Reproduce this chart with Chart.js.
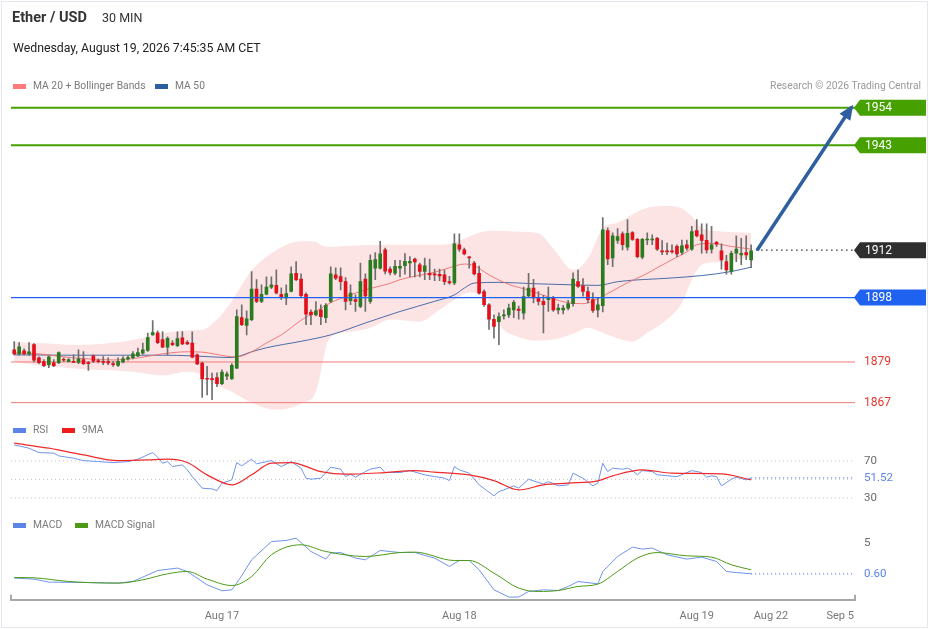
<!DOCTYPE html>
<html>
<head>
<meta charset="utf-8">
<title>Ether / USD 30 MIN</title>
<script src="https://cdn.jsdelivr.net/npm/chart.js@4.4.1/dist/chart.umd.min.js"></script>
<style>
  html, body { margin: 0; padding: 0; background: #fff; }
  body { width: 929px; height: 629px; position: relative; overflow: hidden;
         font-family: Roboto, "Liberation Sans", Arial, sans-serif; }
  #frame { position: absolute; left: 1px; top: 1px; width: 925px; height: 625px; border: 1px solid #e4e8ee; }
  #cv { position: absolute; left: 0; top: 0; }
  .t { position: absolute; white-space: nowrap; line-height: 1; }
  .lg { font-size: 10.3px; color: #7a7a7a; }
  .sw { position: absolute; width: 13px; height: 5px; }
</style>
</head>
<body>
<div id="frame"></div>
<canvas id="cv" width="929" height="633"></canvas>

<div class="t" style="left:12px;top:11px;font-size:14.5px;font-weight:bold;color:#333">Ether / USD</div>
<div class="t" style="left:102px;top:12px;font-size:12.5px;color:#333">30 MIN</div>
<div class="t" style="left:13px;top:42px;font-size:12.3px;color:#222">Wednesday, August 19, 2026 7:45:35 AM CET</div>

<div class="sw" style="left:13px;top:84px;background:#ff7b7b"></div>
<div class="t lg" style="left:33px;top:81px">MA 20 + Bollinger Bands</div>
<div class="sw" style="left:155px;top:84px;background:#2d5fa0"></div>
<div class="t lg" style="left:175px;top:81px">MA 50</div>
<div class="t lg" style="right:8px;top:81px;color:#9a9a9a">Research © 2026 Trading Central</div>

<div class="sw" style="left:13px;top:428px;background:#5b84e6"></div>
<div class="t lg" style="left:33px;top:425px">RSI</div>
<div class="sw" style="left:62px;top:428px;background:#ee1c1c"></div>
<div class="t lg" style="left:82px;top:425px">9MA</div>

<div class="sw" style="left:13px;top:523px;background:#5b84e6"></div>
<div class="t lg" style="left:33px;top:520px">MACD</div>
<div class="sw" style="left:75px;top:523px;background:#4c9a15"></div>
<div class="t lg" style="left:95px;top:520px">MACD Signal</div>

<script>
// x axis: candle index (30 min bars), future area on the right
const xMin = -0.65, xMax = 170;
const xTickPos = [42, 90, 138, 153, 167];
const xTickLabels = ['Aug 17', 'Aug 18', 'Aug 19', 'Aug 22', 'Sep 5'];

// candles, one entry per 30 min bar
const candleOpen = [
  1882.6,1881.4,1882.3,1881.4,1884.1,1880.2,1879.1,1878.2,1878.8,1878.8,
  1879.8,1879.1,1879.2,1878.9,1879.7,1878.8,1880.8,1879.2,1879.1,1879.1,
  1878.3,1878.0,1879.0,1879.9,1880.3,1880.8,1881.6,1882.4,1887.0,1887.6,
  1885.6,1883.4,1884.6,1883.8,1886.1,1884.8,1884.6,1881.1,1878.7,1874.0,
  1874.0,1874.4,1872.6,1874.8,1874.1,1877.2,1892.1,1889.8,1891.5,1900.5,
  1896.9,1899.0,1901.1,1901.6,1899.0,1897.9,1899.8,1905.2,1903.5,1899.0,
  1893.7,1892.9,1894.4,1892.1,1896.9,1904.7,1904.2,1902.7,1897.1,1897.4,
  1895.4,1903.5,1896.9,1906.7,1906.7,1912.1,1906.4,1905.2,1906.7,1907.4,
  1908.2,1909.4,1907.7,1905.7,1905.2,1904.9,1904.9,1904.7,1902.7,1902.3,
  1913.6,1912.1,1910.0,1908.2,1905.2,1899.8,1895.9,1891.6,1890.9,1892.6,
  1892.9,1894.4,1894.6,1893.4,1898.5,1900.8,1897.9,1896.9,1897.4,1897.9,
  1894.4,1894.4,1894.9,1896.2,1902.7,1901.5,1899.8,1897.4,1894.4,1895.6,
  1917.8,1909.7,1914.9,1916.8,1912.9,1917.2,1915.2,1909.9,1915.0,1915.0,
  1915.5,1911.8,1911.8,1911.8,1913.1,1911.3,1913.6,1912.3,1917.8,1916.5,
  1914.9,1912.3,1914.3,1911.8,1908.6,1905.7,1911.1,1910.6,1911.3,1909.1
];
const candleHigh = [
  1885.0,1884.7,1882.9,1884.7,1884.4,1880.5,1879.7,1880.8,1879.7,1882.0,
  1880.2,1880.0,1881.1,1882.6,1882.1,1879.2,1881.1,1879.9,1880.6,1880.2,
  1879.2,1880.2,1880.6,1880.8,1882.1,1883.1,1884.6,1887.5,1891.2,1888.2,
  1888.0,1886.4,1885.3,1887.9,1888.0,1885.3,1887.9,1881.4,1879.0,1877.7,
  1875.7,1875.8,1876.7,1876.1,1878.5,1894.4,1895.9,1894.1,1905.7,1903.3,
  1901.8,1904.1,1904.1,1906.2,1900.9,1901.8,1907.1,1908.6,1905.0,1899.4,
  1894.4,1896.8,1895.9,1896.2,1907.1,1906.8,1906.8,1903.9,1901.8,1898.8,
  1908.2,1905.0,1910.6,1911.3,1914.6,1912.6,1907.1,1909.0,1909.0,1911.0,
  1910.1,1909.7,1908.2,1909.7,1909.4,1906.4,1906.4,1906.1,1904.3,1916.8,
  1916.8,1912.6,1910.1,1908.7,1907.3,1900.3,1896.2,1892.9,1893.5,1894.4,
  1896.1,1897.2,1895.5,1901.1,1905.2,1903.4,1899.8,1898.7,1901.1,1898.4,
  1896.1,1895.7,1897.2,1905.3,1906.1,1903.6,1901.1,1899.4,1897.9,1921.6,
  1918.6,1917.1,1918.4,1917.4,1921.0,1917.5,1915.5,1915.5,1917.1,1916.5,
  1915.8,1914.8,1914.1,1913.6,1913.6,1915.0,1915.0,1919.0,1921.0,1919.8,
  1919.8,1919.0,1914.6,1913.9,1910.5,1911.7,1916.2,1915.5,1916.2,1913.6
];
const candleLow = [
  1881.1,1881.0,1881.1,1880.9,1879.0,1878.5,1877.6,1877.3,1877.6,1878.5,
  1879.1,1879.0,1878.8,1878.5,1878.2,1876.5,1878.8,1878.7,1878.2,1878.2,
  1877.7,1877.7,1878.7,1879.5,1879.9,1880.6,1881.3,1882.1,1886.9,1884.4,
  1883.2,1881.1,1883.8,1883.5,1884.1,1884.1,1880.2,1878.2,1868.5,1869.3,
  1867.9,1871.7,1872.3,1873.8,1873.8,1877.0,1889.7,1887.0,1891.2,1896.5,
  1896.5,1898.8,1900.6,1899.1,1897.4,1895.9,1899.7,1903.0,1898.2,1890.0,
  1890.0,1892.6,1890.0,1890.6,1896.5,1903.3,1900.3,1894.4,1895.9,1893.9,
  1895.0,1893.9,1896.3,1903.3,1906.4,1905.0,1904.7,1904.7,1904.1,1904.9,
  1904.1,1904.1,1904.1,1903.3,1903.3,1903.0,1903.0,1901.8,1902.0,1901.8,
  1911.6,1910.6,1906.7,1904.7,1899.0,1895.4,1888.6,1886.0,1884.1,1891.6,
  1892.1,1892.1,1891.6,1891.6,1898.3,1896.4,1895.8,1887.6,1893.9,1893.9,
  1893.2,1893.2,1894.4,1895.5,1901.0,1898.4,1896.4,1893.6,1892.3,1893.8,
  1907.7,1907.1,1914.0,1912.1,1912.0,1914.9,1909.7,1909.4,1913.6,1913.6,
  1911.9,1910.7,1910.7,1911.1,1910.1,1910.7,1912.0,1911.9,1915.9,1911.1,
  1911.1,1911.1,1913.1,1906.4,1904.9,1904.9,1908.6,1907.7,1909.2,1906.8
];
const candleClose = [
  1881.4,1883.5,1881.4,1882.0,1879.5,1878.8,1877.9,1880.5,1877.9,1881.8,
  1879.5,1879.7,1878.9,1879.9,1878.5,1878.5,1879.2,1879.1,1878.9,1878.7,
  1878.2,1879.2,1879.9,1880.3,1881.4,1881.8,1882.6,1886.2,1887.7,1884.7,
  1883.4,1886.0,1884.1,1885.9,1884.3,1884.3,1880.4,1878.4,1874.0,1873.9,
  1873.8,1872.6,1876.0,1875.4,1878.0,1892.4,1890.0,1891.7,1900.5,1896.9,
  1899.0,1901.1,1901.8,1899.4,1898.0,1899.2,1905.0,1903.3,1898.6,1893.1,
  1892.9,1894.1,1892.4,1895.7,1905.0,1903.7,1902.7,1896.9,1899.3,1896.9,
  1902.7,1898.5,1909.0,1909.2,1910.9,1905.8,1905.4,1907.2,1907.2,1908.7,
  1908.7,1908.5,1905.7,1907.4,1904.7,1904.7,1904.4,1902.7,1902.3,1913.9,
  1912.3,1910.9,1909.7,1905.0,1899.3,1895.9,1891.6,1889.5,1892.4,1892.9,
  1894.9,1896.6,1894.2,1898.3,1900.8,1897.9,1896.9,1895.9,1897.9,1894.4,
  1894.9,1894.9,1896.2,1903.5,1901.3,1899.8,1897.4,1894.2,1895.9,1918.0,
  1909.4,1916.2,1916.0,1913.6,1917.0,1915.2,1910.1,1915.2,1915.2,1915.2,
  1912.3,1911.5,1911.5,1911.5,1910.9,1913.3,1912.6,1917.5,1916.2,1914.9,
  1912.1,1913.6,1913.8,1909.1,1906.2,1911.1,1912.3,1911.1,1910.6,1911.8
];

// Bollinger bands (20) sampled at these bar indexes
const bandIdx = [0,6,12,18,24,30,35,38,41,44,48,53,58,61,62,63,64,68,72,76,82,86,89,92,95,98,102,106,109,113,116,119,122,125,128,132,135,137,139,143,149];
const bandUpper = [1884.9,1884.5,1884.0,1884.4,1885.5,1887.5,1888.3,1888.5,1891.5,1897.0,
  1906.0,1912.0,1914.6,1914.5,1913.5,1913.0,1913.0,1913.3,1913.5,1913.6,
  1913.6,1913.6,1914.2,1916.0,1917.5,1917.7,1917.4,1917.0,1912.5,1906.2,
  1909.5,1918.5,1920.1,1922.5,1924.5,1925.0,1924.3,1922.0,1918.6,1917.5,1917.1];
const bandLower = [1879.1,1877.8,1877.1,1876.6,1876.1,1875.0,1876.1,1875.2,1872.3,1870.2,
  1867.0,1864.9,1866.7,1870.2,1876.1,1883.2,1886.4,1887.9,1889.0,1891.5,
  1890.9,1894.4,1897.4,1899.4,1899.0,1890.0,1886.4,1885.3,1885.6,1887.3,
  1889.1,1887.6,1886.0,1885.0,1887.6,1891.5,1896.5,1903.3,1907.7,1908.6,1910.0];

const ma20Idx = [0,5,10,15,20,25,30,35,38,43,45,48,51,54,58,61,64,68,71,76,78,85,88,91,93,96,100,104,108,111,115,118,121,124,127,130,133,136,138,141,145,149];
const ma20Val = [1881.7,1881.4,1880.5,1879.9,1879.6,1880.2,1881.4,1882.0,1881.9,1880.7,
  1880.5,1882.0,1884.6,1887.0,1891.3,1893.9,1896.5,1898.8,1900.3,1902.2,
  1903.3,1905.5,1906.8,1907.9,1907.4,1904.7,1901.9,1900.2,1898.2,1896.8,
  1896.2,1897.7,1900.0,1902.4,1904.4,1906.8,1909.2,1911.5,1913.6,1914.0,1913.1,1912.3];

const ma50Idx = [0,10,20,30,36,40,44,48,51,58,64,71,78,85,89,91,93,98,105,112,118,122,133,139,145,149];
const ma50Val = [1881.1,1881.0,1881.0,1881.0,1880.8,1880.5,1880.3,1882.0,1883.2,1885.1,
  1887.0,1890.5,1893.9,1896.9,1898.8,1900.8,1902.3,1902.5,1902.1,1901.8,
  1901.6,1902.7,1903.8,1904.5,1905.7,1907.0];

// key levels
const levelsGreen = [1954, 1943];
const levelBlue = 1898;
const levelsRed = [1879, 1867];
const lastPrice = 1912;
const arrowX = [150.2, 169.3];
const arrowY = [1912, 1954.2];

// RSI
const rsiIdx = [0,3,5,8,9,12,14,17,20,23,25,28,29,30,31,32,34,35,36,38,40,41,42,44,45,46,48,49,51,52,54,56,58,59,60,62,64,66,67,68,69,71,72,74,75,78,80,83,85,87,88,89,90,92,94,97,98,99,101,102,104,106,107,108,110,112,113,115,117,118,119,120,121,123,124,125,126,127,129,130,134,137,139,140,141,142,143,145,146,148,149];
const rsiVal = [87.3,83.7,79.0,78.3,75.4,72.9,70.3,69.2,68.2,69.2,71.8,79.0,74.0,67.5,69.2,63.8,65.7,60.3,53.0,40.5,
  39.7,37.9,45.9,49.5,68.2,64.6,71.8,66.8,69.2,70.3,63.8,69.2,62.1,51.3,50.2,51.3,63.2,61.0,53.0,55.6,
  52.4,58.4,61.0,63.2,57.4,57.4,59.5,54.9,53.0,51.3,48.7,63.8,60.3,56.7,44.1,32.2,36.8,38.6,43.0,40.5,
  50.2,46.5,45.1,47.6,43.0,44.1,56.7,51.3,43.0,45.9,67.5,58.4,62.1,61.0,62.1,59.5,54.9,59.5,58.4,54.9,
  53.0,59.5,57.4,52.4,53.8,53.0,43.0,50.2,52.4,49.5,51.52];
const rsiMaIdx = [0,7,14,21,27,31,35,39,44,48,52,56,62,67,75,81,85,92,97,102,107,112,118,121,127,133,143,149];
const rsiMaVal = [89.1,83.7,76.5,70.3,71.1,71.8,68.2,54.9,44.1,54.9,67.5,68.2,58.4,55.6,57.4,59.5,57.8,54.9,48.7,38.6,
  44.1,45.9,48.4,53.8,60.3,56.7,55.9,49.5];
const rsiGuides = [70, 50, 30];
const rsiLabels = [70, 30];
const rsiLast = 51.52;

// MACD
const macdIdx = [0,4,7,14,21,24,26,29,33,35,39,42,44,46,48,52,55,57,58,60,63,64,66,69,71,74,78,81,85,88,90,92,94,97,100,102,104,107,110,112,114,118,119,122,125,127,129,132,136,139,142,144,146,149];
const macdVal = [0.0,-0.15,-0.58,-0.63,-0.72,-0.49,0.13,1.07,1.41,0.93,-0.96,-1.81,-1.67,0.32,2.59,5.18,5.33,5.67,5.04,3.77,
  2.69,3.54,3.62,2.83,2.59,3.91,3.62,3.62,2.83,1.64,2.5,2.49,1.17,-1.67,-2.7,-2.7,-1.91,-1.67,-1.77,-1.2,
  -0.49,-0.82,0.93,3.06,4.39,4.11,4.25,3.3,2.69,2.97,2.35,0.93,0.78,0.60];
const sigIdx = [0,4,11,21,26,31,35,39,44,48,52,58,63,71,78,81,89,92,97,102,106,110,114,118,122,126,130,136,141,145,149];
const sigVal = [0.07,0.03,-0.49,-0.72,-0.25,0.6,0.93,-0.15,-1.06,0.22,3.3,4.72,3.77,3.06,3.62,3.68,2.49,2.49,0.7,-1.43,
  -1.91,-1.77,-1.2,-0.86,0.93,2.83,3.62,3.15,2.97,1.88,1.17];
const macdLabels = [5];
const macdLast = 0.60;

const GREEN = '#2a7a1f', RED = '#e3101b', WICK = '#6e6e6e';
const FONT = 'Roboto, "Liberation Sans", Arial, sans-serif';

function pts(idx, vals) { return idx.map((x, k) => ({ x: x, y: vals[k] })); }
function hline(v, from) { return [{ x: from === undefined ? xMin : from, y: v }, { x: xMax, y: v }]; }
function lineDs(data, color, width, order, axis, extra) {
  return Object.assign({ type: 'line', data: data, borderColor: color, borderWidth: width, pointRadius: 0,
    fill: false, order: order, yAxisID: axis }, extra || {});
}

const candleIdx = candleClose.map((c, i) => i);
const isUp = i => candleClose[i] >= candleOpen[i];

const datasets = [];
// bollinger band fill
datasets.push(lineDs(pts(bandIdx, bandUpper), 'rgba(0,0,0,0)', 0, 30, 'y',
  { fill: '+1', backgroundColor: 'rgba(248,165,165,0.30)', cubicInterpolationMode: 'monotone' }));
datasets.push(lineDs(pts(bandIdx, bandLower), 'rgba(0,0,0,0)', 0, 31, 'y', { cubicInterpolationMode: 'monotone' }));
// moving averages
datasets.push(lineDs(pts(ma20Idx, ma20Val), 'rgba(240,110,110,0.9)', 1, 20, 'y', { cubicInterpolationMode: 'monotone' }));
datasets.push(lineDs(pts(ma50Idx, ma50Val), 'rgba(55,95,160,0.9)', 1, 20, 'y', { cubicInterpolationMode: 'monotone' }));
// levels behind candles
levelsRed.forEach(v => datasets.push(lineDs(hline(v), '#f07a7a', 1, 18, 'y')));
levelsGreen.forEach(v => datasets.push(lineDs(hline(v), '#45a000', 2, 18, 'y')));
// candles
datasets.push({ type: 'bar', yAxisID: 'y', order: 12, grouped: false, barThickness: 1,
  data: candleIdx.map(i => ({ x: i, y: [candleLow[i], candleHigh[i]] })),
  backgroundColor: WICK, borderWidth: 0 });
datasets.push({ type: 'bar', yAxisID: 'y', order: 11, grouped: false, barThickness: 3, minBarLength: 1,
  data: candleIdx.map(i => ({ x: i, y: [candleOpen[i], candleClose[i]] })),
  backgroundColor: ctx => isUp(ctx.dataIndex) ? GREEN : RED, borderWidth: 0 });
// levels over candles
datasets.push(lineDs(hline(levelBlue), '#1f62f0', 1.4, 6, 'y'));
datasets.push(lineDs(hline(lastPrice, candleIdx.length), '#333', 1.2, 6, 'y', { borderDash: [1.5, 3.5] }));
// forecast arrow
const arrowIndex = datasets.length;
datasets.push(lineDs(pts(arrowX, arrowY), '#2f5f9f', 3.5, 1, 'y'));
// RSI pane
rsiGuides.forEach(v => datasets.push(lineDs(hline(v), '#c4c4c4', 1, 40, 'yRsi', { borderDash: [1, 3] })));
datasets.push(lineDs(hline(rsiLast, candleIdx.length - 1), '#5b84e6', 1.2, 5, 'yRsi', { borderDash: [1, 3] }));
datasets.push(lineDs(pts(rsiIdx, rsiVal), '#7094ea', 1, 4, 'yRsi'));
datasets.push(lineDs(pts(rsiMaIdx, rsiMaVal), '#ee2a2a', 1.2, 3, 'yRsi', { cubicInterpolationMode: 'monotone' }));
// MACD pane
datasets.push(lineDs(hline(macdLast, candleIdx.length - 1), '#5b84e6', 1.2, 5, 'yMacd', { borderDash: [1, 3] }));
datasets.push(lineDs(pts(macdIdx, macdVal), '#7094ea', 1, 4, 'yMacd'));
datasets.push(lineDs(pts(sigIdx, sigVal), '#4c9a15', 1, 3, 'yMacd', { cubicInterpolationMode: 'monotone' }));

function tag(ctx, tipX, y, w, text, bg, fg) {
  ctx.beginPath();
  ctx.moveTo(tipX, y);
  ctx.lineTo(tipX + 6, y - 8);
  ctx.lineTo(tipX + w, y - 8);
  ctx.lineTo(tipX + w, y + 8);
  ctx.lineTo(tipX + 6, y + 8);
  ctx.closePath();
  ctx.fillStyle = bg;
  ctx.fill();
  ctx.fillStyle = fg;
  ctx.fillText(text, tipX + 11, y + 0.5);
}

const sideLabels = {
  id: 'sideLabels',
  afterDatasetsDraw(chart) {
    const { ctx } = chart;
    // arrow head
    const m = chart.getDatasetMeta(arrowIndex);
    const p0 = m.data[0], p1 = m.data[1];
    const a = Math.atan2(p1.y - p0.y, p1.x - p0.x);
    ctx.save();
    ctx.translate(p1.x, p1.y);
    ctx.rotate(a);
    ctx.beginPath();
    ctx.moveTo(3, 0);
    ctx.lineTo(-12, -6.5);
    ctx.lineTo(-12, 6.5);
    ctx.closePath();
    ctx.fillStyle = '#2f5f9f';
    ctx.fill();
    ctx.restore();
  },
  afterDraw(chart) {
    const { ctx, chartArea, scales } = chart;
    const tipX = chartArea.right - 1, lx = chartArea.right + 9;
    ctx.save();
    ctx.font = '12px ' + FONT;
    ctx.textBaseline = 'middle';
    ctx.textAlign = 'left';
    levelsGreen.forEach(v => tag(ctx, tipX, scales.y.getPixelForValue(v), 72, String(v), '#45a000', '#fff'));
    tag(ctx, tipX, scales.y.getPixelForValue(lastPrice), 72, String(lastPrice), '#2f2f2f', '#fff');
    tag(ctx, tipX, scales.y.getPixelForValue(levelBlue), 72, String(levelBlue), '#1f62f0', '#fff');
    ctx.fillStyle = '#e8372c';
    levelsRed.forEach(v => ctx.fillText(String(v), lx, scales.y.getPixelForValue(v)));
    ctx.font = '11.5px ' + FONT;
    ctx.fillStyle = '#6a6a6a';
    rsiLabels.forEach(v => ctx.fillText(String(v), lx, scales.yRsi.getPixelForValue(v)));
    macdLabels.forEach(v => ctx.fillText(String(v), lx, scales.yMacd.getPixelForValue(v)));
    ctx.fillStyle = '#5b84e6';
    ctx.fillText(rsiLast.toFixed(2), lx, scales.yRsi.getPixelForValue(rsiLast));
    ctx.fillText(macdLast.toFixed(2), lx, scales.yMacd.getPixelForValue(macdLast));
    // end caps of the time axis
    ctx.strokeStyle = '#a8a8a8';
    ctx.lineWidth = 2;
    ctx.beginPath();
    ctx.moveTo(chartArea.left, chartArea.bottom);
    ctx.lineTo(chartArea.left, chartArea.bottom - 5);
    ctx.moveTo(chartArea.right, chartArea.bottom);
    ctx.lineTo(chartArea.right, chartArea.bottom - 5);
    ctx.stroke();
    ctx.restore();
  }
};

new Chart(document.getElementById('cv'), {
  type: 'line',
  data: { datasets: datasets },
  plugins: [sideLabels],
  options: {
    responsive: false,
    animation: false,
    events: [],
    layout: { padding: { left: 11, right: 74, top: 95, bottom: 1 } },
    plugins: { legend: { display: false }, tooltip: { enabled: false } },
    scales: {
      x: {
        type: 'linear', min: xMin, max: xMax, offset: false,
        grid: { display: false, drawTicks: false },
        border: { display: true, color: '#a8a8a8', width: 2 },
        ticks: {
          autoSkip: false, maxRotation: 0, padding: 9.5, color: '#777',
          font: { size: 11, family: FONT },
          callback: v => { const k = xTickPos.indexOf(v); return k < 0 ? '' : xTickLabels[k]; }
        },
        afterBuildTicks: ax => { ax.ticks = xTickPos.map(v => ({ value: v })); }
      },
      y: { position: 'right', stack: 'panes', stackWeight: 323, min: 1862.5, max: 1957.8, display: false },
      yRsi: { position: 'right', stack: 'panes', stackWeight: 94, min: 14.9, max: 116.5, display: false },
      yMacd: { position: 'right', stack: 'panes', stackWeight: 88, min: -3.09, max: 9.4, display: false }
    }
  }
});
</script>
</body>
</html>
